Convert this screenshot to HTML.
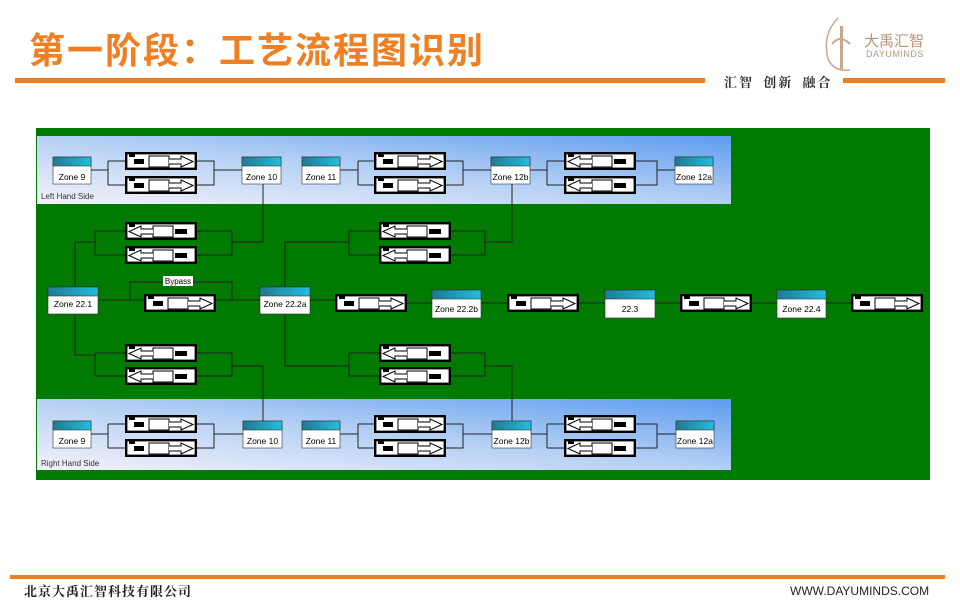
<!DOCTYPE html>
<html><head><meta charset="utf-8"><style>
body{margin:0;width:960px;height:600px;background:#fff;position:relative;overflow:hidden;font-family:"Liberation Sans","Noto Sans CJK SC",sans-serif}
.t{position:absolute;left:29px;top:22px;font-size:36px;font-weight:bold;color:#ee7f22;font-family:"Noto Sans CJK SC",sans-serif;letter-spacing:2px}
</style></head><body>
<div class="t">第一阶段：工艺流程图识别</div>
<div style="position:absolute;left:15px;top:78px;width:690px;height:5px;background:#ee7f22"></div>
<div style="position:absolute;left:724px;top:72px;font-size:13px;font-weight:bold;color:#333;font-family:'Noto Serif CJK SC',serif;letter-spacing:2px;word-spacing:4px">汇智 创新 融合</div>
<div style="position:absolute;left:843px;top:78px;width:102px;height:5px;background:#ee7f22"></div>
<svg style="position:absolute;left:820px;top:14px" width="40" height="60"><path d="M18 4 Q2 20 8 45 Q14 58 30 56" fill="none" stroke="#c9a890" stroke-width="1.5"/><rect x="20" y="12" width="3" height="44" fill="#c9a890"/><path d="M12 30 Q20 20 30 30" fill="none" stroke="#c9a890" stroke-width="2"/></svg>
<div style="position:absolute;left:864px;top:30px;font-size:15px;color:#b8957a">大禹汇智</div>
<div style="position:absolute;left:866px;top:49px;font-size:9px;color:#b8957a;letter-spacing:0.5px">DAYUMINDS</div>
<div style="position:absolute;left:10px;top:575px;width:935px;height:4px;background:#ee7f22"></div>
<div style="position:absolute;left:24px;top:581px;font-size:13px;font-weight:bold;color:#222;font-family:'Noto Serif CJK SC',serif;letter-spacing:1px">北京大禹汇智科技有限公司</div>
<div style="position:absolute;left:790px;top:584px;font-size:12px;color:#222">WWW.DAYUMINDS.COM</div>
<svg style="position:absolute;left:0;top:0" width="960" height="600" font-family="Liberation Sans, sans-serif">
<defs>
<linearGradient id="bg" x1="0" y1="1" x2="1" y2="0"><stop offset="0" stop-color="#f4f2fa"/><stop offset="0.5" stop-color="#b4d0f4"/><stop offset="1" stop-color="#5e9cf0"/></linearGradient>
<linearGradient id="hd" x1="0" y1="0" x2="1" y2="0"><stop offset="0" stop-color="#1f7a92"/><stop offset="1" stop-color="#22bde0"/></linearGradient>
<symbol id="pr" viewBox="0 0 72 18" width="72" height="18"><rect x="1.2" y="1.2" width="69.6" height="15.6" fill="#fff" stroke="#000" stroke-width="2.4"/><rect x="4" y="2" width="6" height="3" fill="#000"/><rect x="9" y="7" width="10" height="5" fill="#000"/><rect x="24" y="4" width="20" height="11" fill="#fff" stroke="#000"/><path d="M44 7 H56 V4 L68 9.5 L56 15 V12 H44" fill="#fff" stroke="#000"/></symbol>
<symbol id="pl" viewBox="0 0 72 18" width="72" height="18"><rect x="1.2" y="1.2" width="69.6" height="15.6" fill="#fff" stroke="#000" stroke-width="2.4"/><rect x="4" y="2" width="6" height="3" fill="#000"/><rect x="50" y="7" width="12" height="5" fill="#000"/><rect x="28" y="4" width="20" height="11" fill="#fff" stroke="#000"/><path d="M28 7 H16 V4 L4 9.5 L16 15 V12 H28" fill="#fff" stroke="#000"/></symbol>
</defs>
<rect x="36" y="128" width="894" height="352" fill="#007a00"/>
<rect x="37" y="136" width="694" height="68" fill="url(#bg)"/>
<rect x="37" y="399" width="694" height="71" fill="url(#bg)"/>
<g stroke="#222" fill="none" stroke-width="1">
<path d="M91 170H108M108 161V185M108 161H125M108 185H125M196 161H214V185H196M214 170H242"/>
<path d="M340 170H358M358 161V185M358 161H375M358 185H375M445 161H463V185H445M463 170H491"/>
<path d="M530 170H547M547 161V185M547 161H564M547 185H564M635 161H657V185H635M657 170H675"/>
<path d="M263 184V242H232M232 231V255M232 231H196M232 255H196M125 231H95V255H125M95 242H75V287"/>
<path d="M512 184V242H485M485 231V255M485 231H449M485 255H449M379 231H349V255H379M349 242H285V287"/>
<path d="M98 300H144M215 300H260M130 300V282H232V300"/>
<path d="M310 300H336M406 303H432M481 303H508M578 303H605M655 303H680M751 303H777M826 303H851"/>
<path d="M75 313V355H95M95 353V376M95 353H125M95 376H125M196 353H232V376H196M232 366H263V421"/>
<path d="M285 313V366H349M349 353V376M349 353H379M349 376H379M449 353H485V376H449M485 366H512V421"/>
<path d="M91 434H108M108 424V448M108 424H125M108 448H125M196 424H214V448H196M214 434H243"/>
<path d="M340 434H358M358 424V448M358 424H375M358 448H375M445 424H463V448H445M463 434H492"/>
<path d="M531 434H547M547 424V448M547 424H565M547 448H565M635 424H657V448H635M657 434H676"/>
</g>
<g stroke="#333" stroke-width="0.6" font-size="8.5" text-anchor="middle">
<rect x="53" y="157" width="38" height="27" fill="#fff"/><rect x="53" y="157" width="38" height="9" fill="url(#hd)"/><text x="72" y="180" stroke="none">Zone 9</text>
<rect x="242" y="157" width="39" height="27" fill="#fff"/><rect x="242" y="157" width="39" height="9" fill="url(#hd)"/><text x="261.5" y="180" stroke="none">Zone 10</text>
<rect x="302" y="157" width="38" height="27" fill="#fff"/><rect x="302" y="157" width="38" height="9" fill="url(#hd)"/><text x="321" y="180" stroke="none">Zone 11</text>
<rect x="491" y="157" width="39" height="27" fill="#fff"/><rect x="491" y="157" width="39" height="9" fill="url(#hd)"/><text x="510.5" y="180" stroke="none">Zone 12b</text>
<rect x="675" y="157" width="38" height="27" fill="#fff"/><rect x="675" y="157" width="38" height="9" fill="url(#hd)"/><text x="694" y="180" stroke="none">Zone 12a</text>
<rect x="48" y="287" width="50" height="27" fill="#fff"/><rect x="48" y="287" width="50" height="9" fill="url(#hd)"/><text x="73" y="307" stroke="none">Zone 22.1</text>
<rect x="260" y="287" width="50" height="27" fill="#fff"/><rect x="260" y="287" width="50" height="9" fill="url(#hd)"/><text x="285" y="307" stroke="none">Zone 22.2a</text>
<rect x="432" y="290" width="49" height="28" fill="#fff"/><rect x="432" y="290" width="49" height="9" fill="url(#hd)"/><text x="456.5" y="312" stroke="none">Zone 22.2b</text>
<rect x="605" y="290" width="50" height="28" fill="#fff"/><rect x="605" y="290" width="50" height="9" fill="url(#hd)"/><text x="630" y="312" stroke="none">22.3</text>
<rect x="777" y="290" width="49" height="28" fill="#fff"/><rect x="777" y="290" width="49" height="9" fill="url(#hd)"/><text x="801.5" y="312" stroke="none">Zone 22.4</text>
<rect x="53" y="421" width="38" height="27" fill="#fff"/><rect x="53" y="421" width="38" height="9" fill="url(#hd)"/><text x="72" y="444" stroke="none">Zone 9</text>
<rect x="243" y="421" width="39" height="27" fill="#fff"/><rect x="243" y="421" width="39" height="9" fill="url(#hd)"/><text x="262.5" y="444" stroke="none">Zone 10</text>
<rect x="302" y="421" width="38" height="27" fill="#fff"/><rect x="302" y="421" width="38" height="9" fill="url(#hd)"/><text x="321" y="444" stroke="none">Zone 11</text>
<rect x="492" y="421" width="39" height="27" fill="#fff"/><rect x="492" y="421" width="39" height="9" fill="url(#hd)"/><text x="511.5" y="444" stroke="none">Zone 12b</text>
<rect x="676" y="421" width="38" height="27" fill="#fff"/><rect x="676" y="421" width="38" height="9" fill="url(#hd)"/><text x="695" y="444" stroke="none">Zone 12a</text>
</g>
<text x="41" y="199" font-size="8" fill="#333">Left Hand Side</text>
<text x="41" y="466" font-size="8" fill="#333">Right Hand Side</text>
<rect x="163" y="276" width="30" height="10" fill="#fff"/><text x="178" y="284" font-size="8" text-anchor="middle">Bypass</text>
<use href="#pr" x="125" y="152"/><use href="#pr" x="125" y="176"/>
<use href="#pr" x="374" y="152"/><use href="#pr" x="374" y="176"/>
<use href="#pl" x="564" y="152"/><use href="#pl" x="564" y="176"/>
<use href="#pl" x="125" y="222"/><use href="#pl" x="125" y="246"/>
<use href="#pl" x="379" y="222"/><use href="#pl" x="379" y="246"/>
<use href="#pr" x="144" y="294"/>
<use href="#pr" x="335" y="294"/><use href="#pr" x="507" y="294"/><use href="#pr" x="680" y="294"/><use href="#pr" x="851" y="294"/>
<use href="#pl" x="125" y="344"/><use href="#pl" x="125" y="367"/>
<use href="#pl" x="379" y="344"/><use href="#pl" x="379" y="367"/>
<use href="#pr" x="125" y="415"/><use href="#pr" x="125" y="439"/>
<use href="#pr" x="374" y="415"/><use href="#pr" x="374" y="439"/>
<use href="#pl" x="564" y="415"/><use href="#pl" x="564" y="439"/>
</svg>
</body></html>
